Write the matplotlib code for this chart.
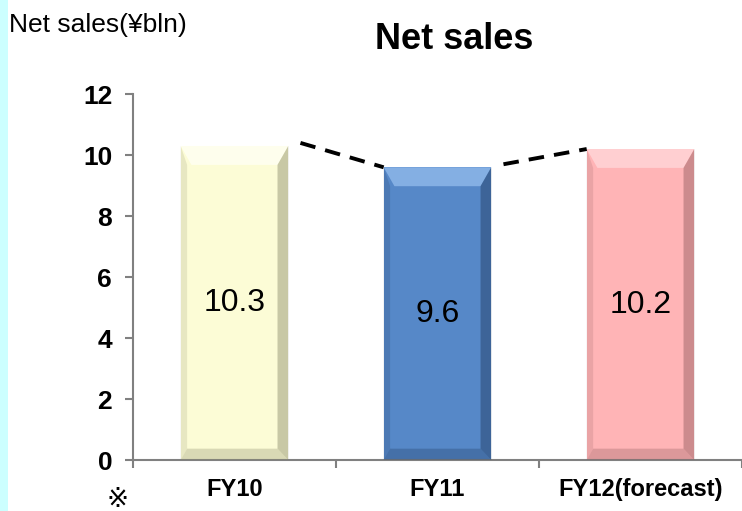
import matplotlib
matplotlib.use("Agg")
import matplotlib.pyplot as plt
from matplotlib.patches import Polygon, Rectangle

plt.rcParams['font.family'] = ['Liberation Sans', 'DejaVu Sans']

categories = ["FY10", "FY11", "FY12(forecast)"]
values = [10.3, 9.6, 10.2]
labels = ["10.3", "9.6", "10.2"]
colors = ["#FCFCD6", "#5688C8", "#FFB4B6"]
light = ["#FFFFF2", "#8DB6E8", "#FFD4D6"]
dark = ["#8A8A6A", "#1F3A5E", "#8E5A5C"]
yticks = [0, 2, 4, 6, 8, 10, 12]

fig = plt.figure(figsize=(7.42, 5.11), dpi=100)
fig.patch.set_facecolor("white")
fig.add_artist(Rectangle((0, 0), 0.0105, 1, transform=fig.transFigure,
                         facecolor="#CCFFFF", edgecolor="none"))

ax = fig.add_axes([0.1792, 0.0998, 0.8208, 0.716])
width = 0.53
x = list(range(len(categories)))
bars = ax.bar(x, values, width=width, color=colors, edgecolor="none", zorder=2)

# bevel effect derived from bar geometry
for b, lc, dc in zip(bars, light, dark):
    x0, y0 = b.get_x(), b.get_y()
    w, h = b.get_width(), b.get_height()
    dx = w * 0.1
    dy = 0.62
    top = Polygon([(x0, y0 + h), (x0 + w, y0 + h), (x0 + w - dx, y0 + h - dy),
                   (x0 + dx, y0 + h - dy)], closed=True, facecolor=lc,
                  edgecolor="none", alpha=0.85, zorder=3)
    right = Polygon([(x0 + w, y0 + h), (x0 + w, y0), (x0 + w - dx, y0 + dy * 0.6),
                     (x0 + w - dx, y0 + h - dy)], closed=True, facecolor=dc,
                    edgecolor="none", alpha=0.45, zorder=3)
    left = Polygon([(x0, y0 + h), (x0, y0), (x0 + dx * 0.6, y0 + dy * 0.6),
                    (x0 + dx * 0.6, y0 + h - dy)], closed=True, facecolor=dc,
                   edgecolor="none", alpha=0.18, zorder=3)
    bottom = Polygon([(x0, y0), (x0 + w, y0), (x0 + w - dx, y0 + dy * 0.6),
                      (x0 + dx * 0.6, y0 + dy * 0.6)], closed=True, facecolor=dc,
                     edgecolor="none", alpha=0.3, zorder=3)
    for p in (top, right, left, bottom):
        ax.add_patch(p)

# dashed connectors between bar tops
for i in range(len(values) - 1):
    xa = x[i] + width / 2 + 0.06
    xb = x[i + 1] - width / 2
    ax.plot([xa, xb], [values[i] + 0.1, values[i + 1]], color="black",
            lw=2.8, ls=(0, (4, 2.6)), zorder=4, solid_capstyle="butt")

for xi, v, lab in zip(x, values, labels):
    ax.text(xi, v / 2, lab, ha="center", va="center", fontsize=23, zorder=5)

ax.set_xlim(-0.5, 2.5)
ax.set_ylim(0, 12)
ax.set_yticks(yticks)
ax.set_yticklabels([str(t) for t in yticks], fontsize=19, fontweight="bold")
ax.set_xticks(x)
ax.set_xticklabels(categories, fontsize=17, fontweight="bold")
ax.set_xticks([-0.5, 0.5, 1.5, 2.5], minor=True)
ax.tick_params(axis="x", which="major", length=0, pad=13)
ax.tick_params(axis="x", which="minor", length=6, width=1.5, color="#808080", direction="out")
ax.tick_params(axis="y", length=6, width=1.5, color="#808080", direction="out", pad=9)

for s in ("top", "right"):
    ax.spines[s].set_visible(False)
for s in ("left", "bottom"):
    ax.spines[s].set_color("#808080")
    ax.spines[s].set_linewidth(1.5)

fig.text(0.012, 0.952, "Net sales(¥bln)", fontsize=19, ha="left", va="center")
fig.text(0.612, 0.922, "Net sales", fontsize=26, fontweight="bold", ha="center", va="center")
fig.text(0.158, 0.022, "※", fontsize=19, ha="center", va="center",
         family=['Liberation Sans', 'DejaVu Sans', 'Noto Sans CJK JP'])

fig.savefig("out.png", dpi=100, facecolor="white")
